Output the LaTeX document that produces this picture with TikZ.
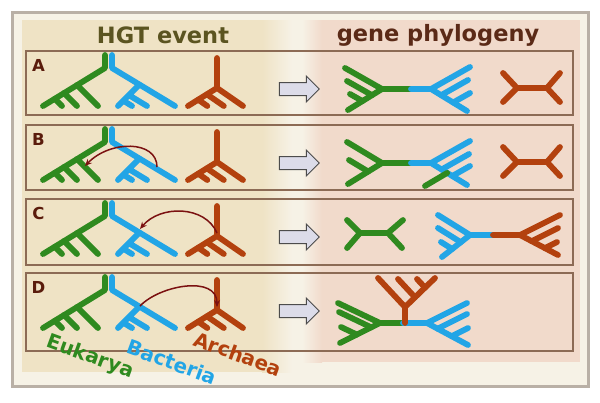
\documentclass[tikz,border=0pt]{standalone}
\usepackage{fontspec}
\setmainfont{DejaVu Sans}
\usetikzlibrary{arrows.meta,shapes.arrows,shadows}

\definecolor{eukcol}{HTML}{2F8A1F}
\definecolor{baccol}{HTML}{22A5E6}
\definecolor{arccol}{HTML}{B3410E}
\definecolor{framecol}{HTML}{B9B0A6}
\definecolor{creamcol}{HTML}{F6F2E6}
\definecolor{hgtcol}{HTML}{EFE3C5}
\definecolor{genecol}{HTML}{F1DACB}
\definecolor{boxcol}{HTML}{8C6B55}
\definecolor{titlecolA}{HTML}{5B5420}
\definecolor{titlecolB}{HTML}{5B2A17}
\definecolor{letcol}{HTML}{5A1C0C}
\definecolor{transcol}{HTML}{7B1111}
\definecolor{bigarrcol}{HTML}{DCDCE9}

\begin{document}
\begin{tikzpicture}
    [x=1pt,y=-1pt,
     euk/.style={draw=eukcol, line width=5.8pt, line cap=round, line join=round},
     bac/.style={draw=baccol, line width=5.8pt, line cap=round, line join=round},
     arc/.style={draw=arccol, line width=5.8pt, line cap=round, line join=round},
     rowbox/.style={draw=boxcol, line width=1.8pt},
     rowlabel/.style={text=letcol, font=\bfseries\fontsize{16.5}{16.5}\selectfont, inner sep=0pt},
     title/.style={font=\bfseries\fontsize{22.5}{22.5}\selectfont, inner sep=0pt},
     bigarrow/.style={single arrow, draw=black!70, fill=bigarrcol, line width=1pt,
       minimum height=40pt, inner xsep=0pt, inner ysep=6pt, single arrow head extend=6.5pt},
     hgt/.style={draw=transcol, line width=1.5pt, -{Stealth[length=7pt,width=6pt]}},
     taxon/.style={font=\bfseries\fontsize{20}{20}\selectfont, inner sep=0pt, rotate=-20}]
  \useasboundingbox (0,0) rectangle (600,402);
  \fill[white] (0,0) rectangle (600,402);

  % frame and panels
  \draw[fill=creamcol, draw=framecol, line width=3pt,
        drop shadow={opacity=0.35, shadow xshift=1.5pt, shadow yshift=-1.5pt}] (12,12) rectangle (588,386);
  \fill[hgtcol] (22,20) rectangle (262,372);
  \shade[left color=hgtcol, right color=creamcol] (262,20) rectangle (292,372);
  \fill[genecol] (322,20) rectangle (580,362);
  \shade[left color=creamcol, right color=genecol] (302,20) rectangle (322,362);

  \node[title, text=titlecolA] (hgt) at (163,35) {HGT event};
  \node[title, text=titlecolB] (gene) at (438,35) {gene phylogeny};

  % rows
  \foreach \r/\dy/\ht in {A/0/64, B/74/65, C/148/66, D/222/78} {
    \draw[rowbox] (26,51+\dy) rectangle (573,51+\dy+\ht);
    \node[rowlabel] (lab\r) at (38.5,71.5+\dy) {\r};
    \node[bigarrow] (arr\r) at (296,89+\dy) {};
    \begin{scope}[shift={(0,\dy)}]
      % species trees
      \draw[euk] (105,55) -- (105,68) -- (43,106);
      \draw[euk] (77,85) -- (98,106) (64,93) -- (77,106) (54.8,98.8) -- (62,106);
      \draw[bac] (112,55) -- (112,68) -- (175,106);
      \draw[bac] (139.4,84.6) -- (118,106) (128.9,95.1) -- (147,106) (123.3,100.7) -- (132,106);
      \draw[arc] (217,58) -- (217,88) -- (188,106) (217,88) -- (243,106);
      \draw[arc] (206.9,94.3) -- (223.8,106) (198.2,99.7) -- (207.3,106);
    \end{scope}
  }

  % transfers
  \coordinate (srcB) at (157,167);
  \coordinate (dstB) at (85,166);
  \draw[hgt] (srcB) .. controls (157,140) and (110,140) .. (dstB);
  \coordinate (srcC) at (217,233);
  \coordinate (dstC) at (140,229);
  \draw[hgt] (srcC) .. controls (205,205) and (160,205) .. (dstC);
  \coordinate (srcD) at (140,306);
  \coordinate (dstD) at (217,307);
  \draw[hgt] (srcD) .. controls (160,285) and (217,275) .. (dstD);

  % gene phylogeny A
  \draw[euk] (411,89) -- (382,89) -- (345,68) (382,89) -- (348,110);
  \draw[euk] (372,95.2) -- (347,81) (362.5,101.1) -- (350,94);
  \draw[bac] (411,89) -- (431,89) -- (470,67) (431,89) -- (467,111);
  \draw[bac] (441.1,95.2) -- (468,80) (453.1,102.5) -- (470,93);
  \draw[arc] (503,73) -- (517,88) -- (503,102) (517,88) -- (547,88);
  \draw[arc] (560,73) -- (547,88) -- (560,102);

  % gene phylogeny B
  \draw[euk] (411,163) -- (382,163) -- (347,142) (382,163) -- (348,184);
  \draw[euk] (368.2,171.5) -- (349,160);
  \draw[bac] (411,163) -- (431,163) -- (470,141) (431,163) -- (467,185);
  \draw[bac] (441.6,169.5) -- (469,154) (452.3,176) -- (470,166);
  \draw[euk] (447.2,172.9) -- (425,186);
  \draw[arc] (503,147) -- (517,162) -- (503,176) (517,162) -- (547,162);
  \draw[arc] (560,147) -- (547,162) -- (560,176);

  % gene phylogeny C
  \draw[euk] (347,220) -- (360,233) -- (347,248) (360,233) -- (388,233);
  \draw[euk] (403,220) -- (388,233) -- (402,248);
  \draw[bac] (493,235) -- (470,235) -- (438,215) (470,235) -- (442,257);
  \draw[bac] (460.8,242.2) -- (438,228) (452.2,249) -- (441,242);
  \draw[arc] (493,235) -- (520,235) -- (560,215) (520,235) -- (558,255);
  \draw[arc] (531.7,241.2) -- (558,228) (544.9,248.1) -- (557,242);

  % gene phylogeny D
  \draw[euk] (403,323) -- (380,323) -- (338,303) (380,323) -- (340,343);
  \draw[euk] (371.3,327.4) -- (339,312) (356.9,334.6) -- (341,327);
  \draw[bac] (403,323) -- (427,323) -- (467,303) (427,323) -- (468,345);
  \draw[bac] (437.6,328.7) -- (467,314) (451.6,336.2) -- (468,328);
  \draw[arc] (405,323) -- (405,307) -- (378,278) (405,307) -- (435,278);
  \draw[arc] (415,297.3) -- (398,279) (425,287.6) -- (417,279);

  % taxon names
  \foreach \n/\c/\x/\y in {Eukarya/eukcol/90/357, Bacteria/baccol/172/362, Archaea/arccol/238/354}
    \node[taxon, text=\c] (tax\n) at (\x,\y) {\n};
\end{tikzpicture}
\end{document}
